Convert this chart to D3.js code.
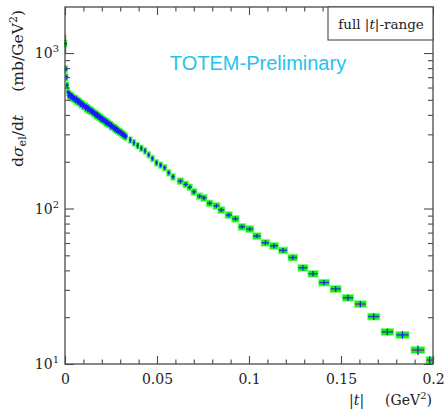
<!DOCTYPE html>
<html><head><meta charset="utf-8">
<script src="https://cdn.jsdelivr.net/npm/d3@7"></script>
<style>html,body{margin:0;padding:0;background:#fff;}svg{display:block;}</style>
</head><body>
<svg id="c" width="445" height="411"></svg>
<script>
// ---- data ----
const fineT = [0.0003,0.0006,0.0009,0.0012,0.0016,0.0020,0.0024,0.0028,0.0032,0.0036,0.0040,0.0044,0.0048,0.0052,0.0056,0.0060,0.0064,0.0068,0.0072,0.0076,0.0080,0.0084,0.0088,0.0092,0.0096,0.0100,0.0104,0.0108,0.0112,0.0116,0.0120,0.0124,0.0128,0.0132,0.0136,0.0140,0.0144,0.0148,0.0152,0.0156,0.0160,0.0164,0.0168,0.0172,0.0176,0.0180,0.0184,0.0188,0.0192,0.0196,0.0200,0.0204,0.0208,0.0212,0.0216,0.0220,0.0224,0.0228,0.0232,0.0236,0.0240,0.0244,0.0248,0.0252,0.0256,0.0260,0.0264,0.0268,0.0272,0.0276,0.0280,0.0284,0.0288,0.0292,0.0296,0.0300,0.0304,0.0308,0.0312,0.0316,0.0320,0.0324,0.0328,0.0332];
const fineV = [1150,790,700,620,560,530,548,541,515,534,528,506,519,512,492,510,505,484,496,479,490,466,480,472,456,470,452,458,440,455,447,430,444,437,422,432,420,426,408,418,413,398,410,395,403,386,396,390,376,388,372,380,366,374,369,356,366,352,360,347,355,348,337,346,334,340,328,333,321,330,318,324,312,318,309,312,303,309,298,302,293,298,289,292];
const fineErr = 0.035;

const binT = [0.0355,0.0375,0.0395,0.0415,0.0435,0.0455,0.0475,0.0497,0.0520,0.0542,0.0564,0.0587,0.0627,0.0656,0.0678,0.0701,0.0732,0.0755,0.0786,0.0823,0.0850,0.0890,0.0926,0.0962,0.1004,0.1043,0.1089,0.1136,0.1185,0.1238,0.1293,0.1348,0.1408,0.1471,0.1538,0.1605,0.1678,0.1752,0.1834,0.1918,0.1982];
const binV = [276,265,254,244,235,222,210,197,190,183,170,160,150,143,137,128,120,117,108,104,97.8,90.8,85.9,76.3,73.8,66.5,60.3,57.6,53.8,48.4,41.6,38.1,33.4,30.4,26.7,24.3,20.2,16.1,15.4,12.3,10.6];
const binW = [0.0020,0.0020,0.0020,0.0020,0.0020,0.0020,0.0022,0.0022,0.0023,0.0023,0.0023,0.0024,0.0036,0.0030,0.0030,0.0032,0.0034,0.0034,0.0036,0.0038,0.0038,0.0040,0.0040,0.0042,0.0044,0.0045,0.0047,0.0048,0.0050,0.0052,0.0054,0.0055,0.0058,0.0060,0.0062,0.0064,0.0066,0.0068,0.0072,0.0075,0.0040];
const binErr = [0.04,0.04,0.04,0.035,0.035,0.03,0.03,0.03,0.03,0.03,0.03,0.03,0.03,0.03,0.03,0.03,0.03,0.03,0.03,0.03,0.03,0.03,0.03,0.03,0.03,0.03,0.035,0.035,0.035,0.035,0.04,0.04,0.04,0.04,0.045,0.045,0.05,0.05,0.055,0.07,0.06];

const xTicks = [0, 0.05, 0.1, 0.15, 0.2];
const xTickLabels = ["0", "0.05", "0.1", "0.15", "0.2"];
const yTicks = [10, 100, 1000];
const yTickExp = ["1", "2", "3"];

// ---- layout ----
const L = 65, R = 433, T = 7, B = 364;
const svg = d3.select("#c");
const x = d3.scaleLinear().domain([0, 0.2]).range([L, R]);
const y = d3.scaleLog().domain([10, Math.pow(10, 3.296)]).range([B, T]);

const serif = "DejaVu Serif";
const frameCol = "#4a4a4a";

const gData = svg.append("g");
const sysF = 0.055, sysB = 0.05;

// fine-binned systematic band
gData.selectAll("rect.fs").data(fineT).enter().append("rect")
  .attr("x", (d) => x(d) - 1.6).attr("width", 3.2)
  .attr("y", (d, i) => y(fineV[i] * (1 + sysF))).attr("height", (d, i) => y(fineV[i] * (1 - sysF)) - y(fineV[i] * (1 + sysF)))
  .attr("fill", "#22ff22");
// binned systematic boxes
gData.selectAll("rect.bs").data(binT).enter().append("rect")
  .attr("x", (d, i) => x(d - binW[i] / 2)).attr("width", (d, i) => x(binW[i]) - x(0))
  .attr("y", (d, i) => y(binV[i] * (1 + sysB))).attr("height", (d, i) => y(binV[i] * (1 - sysB)) - y(binV[i] * (1 + sysB)))
  .attr("fill", "#11ee11").attr("stroke", "#7dff7d").attr("stroke-width", 0.8);

const blue = "#1a1aff";
// fine points
gData.selectAll("line.fv").data(fineT).enter().append("line")
  .attr("x1", (d) => x(d)).attr("x2", (d) => x(d))
  .attr("y1", (d, i) => y(fineV[i] * (1 + (i === 0 ? 0.14 : fineErr)))).attr("y2", (d, i) => y(fineV[i] * (1 - (i === 0 ? 0.14 : fineErr))))
  .attr("stroke", (d, i) => i === 0 ? "#d02020" : blue).attr("stroke-width", 1.2);
gData.selectAll("line.fh").data(fineT).enter().append("line")
  .attr("x1", (d) => x(d) - 1.5).attr("x2", (d) => x(d) + 1.5)
  .attr("y1", (d, i) => y(fineV[i])).attr("y2", (d, i) => y(fineV[i]))
  .attr("stroke", blue).attr("stroke-width", 1.6);
// binned points
gData.selectAll("line.bh").data(binT).enter().append("line")
  .attr("x1", (d, i) => x(d - binW[i] / 2) + 0.5).attr("x2", (d, i) => x(d + binW[i] / 2) - 0.5)
  .attr("y1", (d, i) => y(binV[i])).attr("y2", (d, i) => y(binV[i]))
  .attr("stroke", (d, i) => (i >= 35 && i % 4 === 3) || i >= 39 ? "#8a2a9a" : "#2040c0").attr("stroke-width", 1.4);
gData.selectAll("line.bv").data(binT).enter().append("line")
  .attr("x1", (d) => x(d)).attr("x2", (d) => x(d))
  .attr("y1", (d, i) => y(binV[i] * (1 + binErr[i]))).attr("y2", (d, i) => y(binV[i] * (1 - binErr[i])))
  .attr("stroke", blue).attr("stroke-width", 1.2);

// ---- axes ----
const minorX = d3.range(0, 21).map(i => i * 0.01).filter(v => Math.round(v * 100) % 5 !== 0);
const minorY = [];
[10, 100, 1000].forEach(dec => { for (let k = 2; k <= 9; k++) { const v = dec * k; if (v <= Math.pow(10, 3.296)) minorY.push(v); } });

function styleAxis(g) {
  g.select(".domain").remove();
  g.selectAll(".tick line").attr("stroke", frameCol).attr("stroke-width", 1.1);
  g.selectAll(".tick text").attr("font-family", serif).attr("font-size", 14).attr("fill", "#222");
}
// bottom
svg.append("g").attr("transform", `translate(0,${B})`)
  .call(d3.axisBottom(x).tickValues(xTicks).tickSize(-8).tickPadding(10).tickFormat((d, i) => xTickLabels[i]))
  .call(styleAxis);
svg.append("g").attr("transform", `translate(0,${B})`)
  .call(d3.axisBottom(x).tickValues(minorX).tickSize(-4.5).tickFormat(""))
  .call(styleAxis);
// top
svg.append("g").attr("transform", `translate(0,${T})`)
  .call(d3.axisTop(x).tickValues(xTicks).tickSize(-8).tickFormat(""))
  .call(styleAxis);
svg.append("g").attr("transform", `translate(0,${T})`)
  .call(d3.axisTop(x).tickValues(minorX).tickSize(-4.5).tickFormat(""))
  .call(styleAxis);
// left
svg.append("g").attr("transform", `translate(${L},0)`)
  .call(d3.axisLeft(y).tickValues(yTicks).tickSize(-9).tickFormat(""))
  .call(styleAxis);
svg.append("g").attr("transform", `translate(${L},0)`)
  .call(d3.axisLeft(y).tickValues(minorY).tickSize(-5).tickFormat(""))
  .call(styleAxis);
// right
svg.append("g").attr("transform", `translate(${R},0)`)
  .call(d3.axisRight(y).tickValues(yTicks).tickSize(-9).tickFormat(""))
  .call(styleAxis);
svg.append("g").attr("transform", `translate(${R},0)`)
  .call(d3.axisRight(y).tickValues(minorY).tickSize(-5).tickFormat(""))
  .call(styleAxis);

// y tick labels with superscripts
yTicks.forEach((v, i) => {
  const t = svg.append("text").attr("x", L - 6).attr("y", y(v) + 5)
    .attr("text-anchor", "end").attr("font-family", serif).attr("font-size", 14).attr("fill", "#222");
  t.append("tspan").text("10");
  t.append("tspan").attr("dy", -6).attr("font-size", 10).text(yTickExp[i]);
});

// frame
svg.append("rect").attr("x", L).attr("y", T).attr("width", R - L).attr("height", B - T)
  .attr("fill", "none").attr("stroke", frameCol).attr("stroke-width", 1.3);

// legend box
svg.append("rect").attr("x", 328).attr("y", T).attr("width", R - 328).attr("height", 33)
  .attr("fill", "#fff").attr("stroke", frameCol).attr("stroke-width", 1.1);
const lt = svg.append("text").attr("x", 381).attr("y", 29).attr("text-anchor", "middle")
  .attr("font-family", serif).attr("font-size", 13.5).attr("fill", "#222");
lt.append("tspan").text("full |");
lt.append("tspan").attr("font-style", "italic").text("t");
lt.append("tspan").text("|-range");

// TOTEM label
svg.append("text").attr("x", 258).attr("y", 70).attr("text-anchor", "middle")
  .attr("font-family", "Liberation Sans").attr("font-size", 20).attr("fill", "#22c4ee")
  .text("TOTEM-Preliminary");

// x axis title
const xt = svg.append("text").attr("x", 432).attr("y", 405).attr("text-anchor", "end")
  .attr("font-family", serif).attr("font-size", 14).attr("fill", "#222");
xt.append("tspan").text("|");
xt.append("tspan").attr("font-style", "italic").text("t");
xt.append("tspan").text("|\u2003\u2002(GeV");
xt.append("tspan").attr("dy", -6).attr("font-size", 10).text("2");
xt.append("tspan").attr("dy", 6).text(")");

// y axis title
const yt = svg.append("text").attr("transform", "translate(23,10) rotate(-90)").attr("text-anchor", "end")
  .attr("font-family", serif).attr("font-size", 15.5).attr("fill", "#222");
yt.append("tspan").text("d");
yt.append("tspan").attr("font-style", "italic").text("σ");
yt.append("tspan").attr("dy", 3).attr("font-size", 11).text("el");
yt.append("tspan").attr("dy", -3).text("/d");
yt.append("tspan").attr("font-style", "italic").text("t");
yt.append("tspan").text("\u2003\u2002(mb/GeV");
yt.append("tspan").attr("dy", -6).attr("font-size", 11).text("2");
yt.append("tspan").attr("dy", 6).text(")");
</script>
</body></html>
